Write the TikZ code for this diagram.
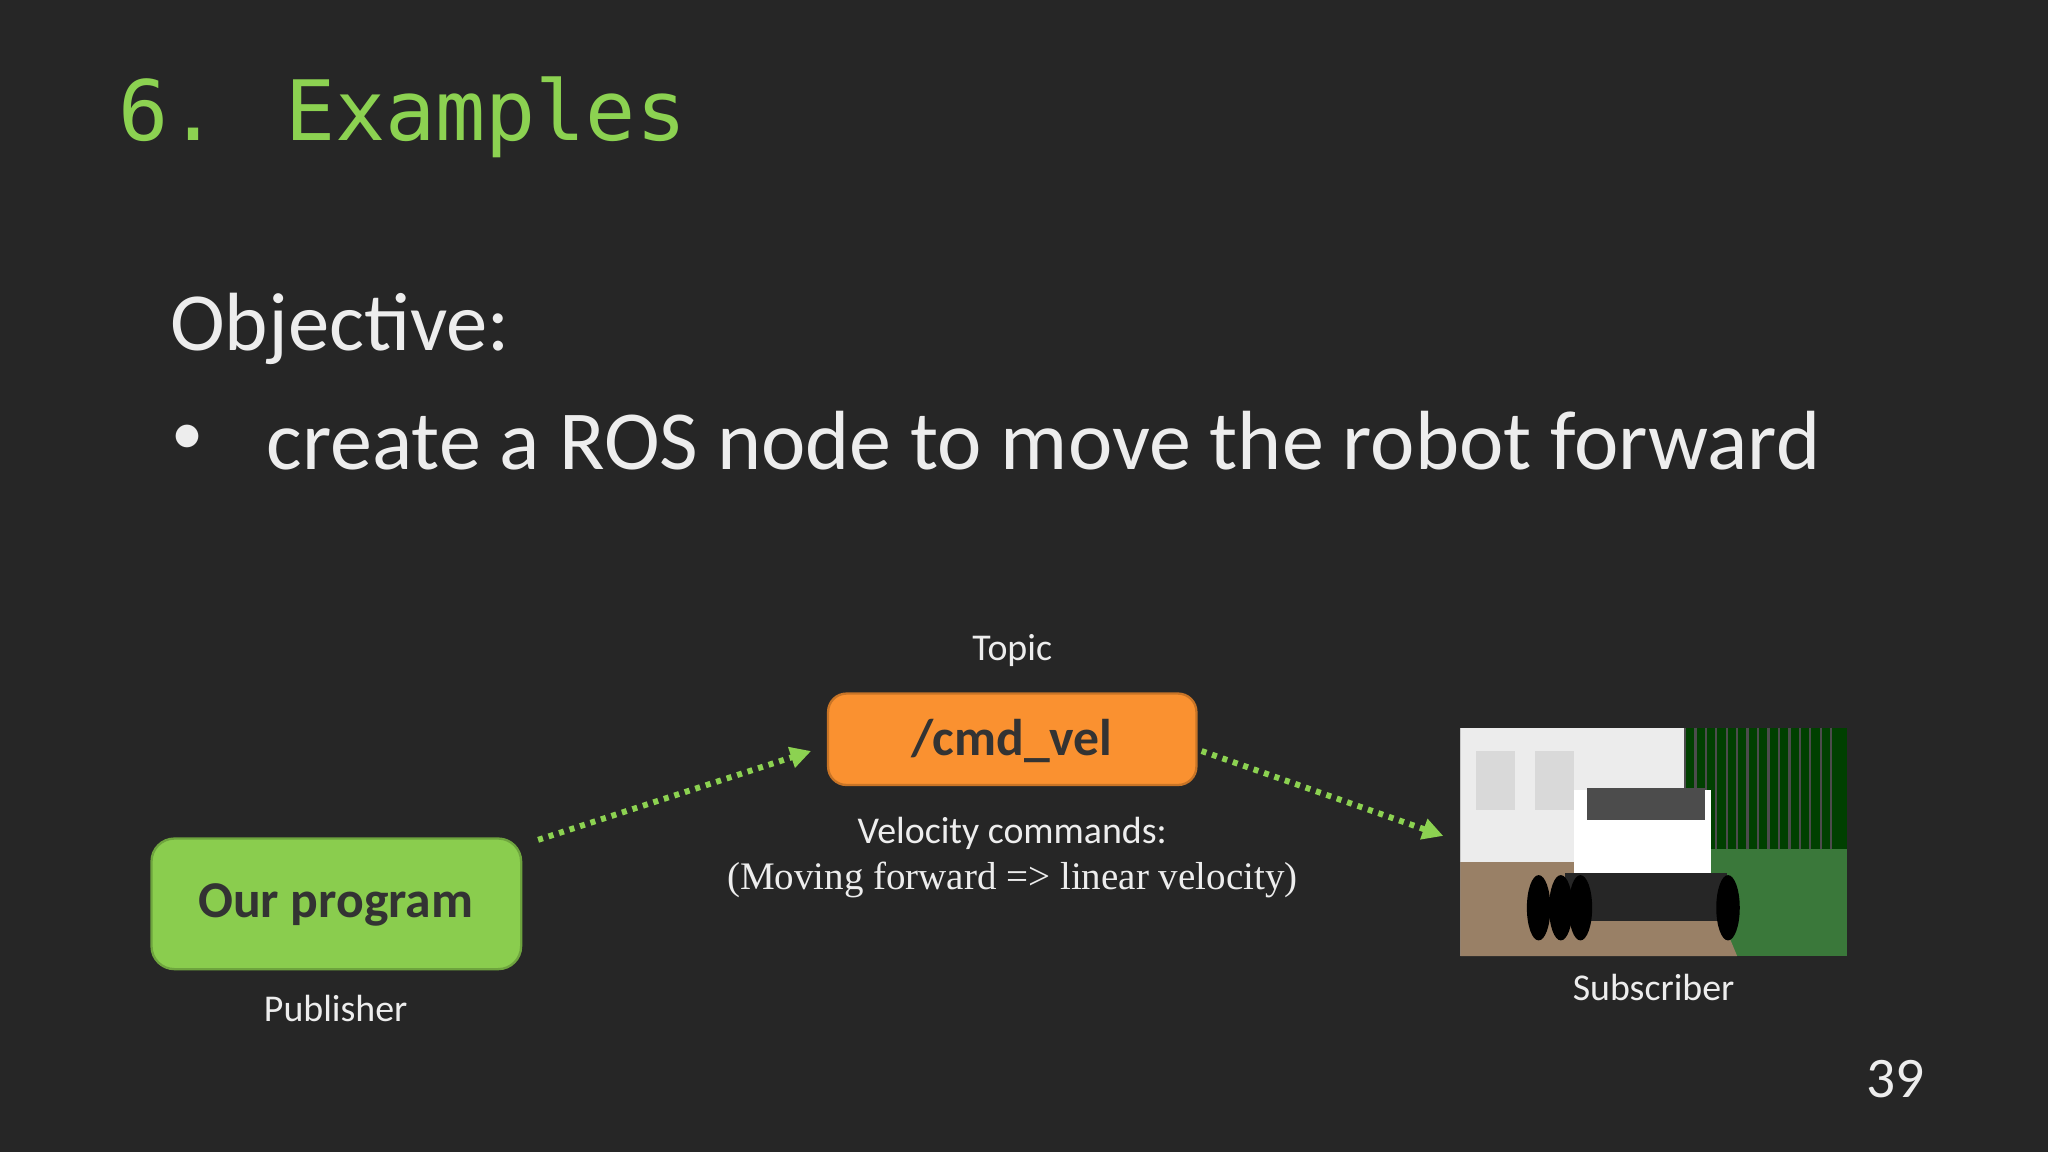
\documentclass[tikz,border=0pt]{standalone}
\usepackage{fontspec}
\setmainfont{Carlito}
\newfontfamily\monof{DejaVu Sans Mono}
\newfontfamily\serf{Liberation Serif}
\usetikzlibrary{arrows.meta}
\definecolor{bg}{HTML}{262626}
\definecolor{grn}{HTML}{8CD251}
\definecolor{boxg}{HTML}{8ACD4E}
\definecolor{orng}{HTML}{FA9130}
\definecolor{txt}{HTML}{EDEDED}
\tikzset{
  lbl/.style={text=txt,font=\fontsize{16.5}{18}\selectfont,inner sep=0},
  dots/.style={grn,line width=2.6pt,dash pattern=on 2.2pt off 2.6pt,-{Triangle[length=9pt,width=9pt]}},
}
\begin{document}
\begin{tikzpicture}[x=0.02cm,y=-0.02cm]
\fill[bg] (0,0) rectangle (1568,882);
\useasboundingbox (0,0) rectangle (1568,882);
\node[anchor=west,text=grn,font=\monof\fontsize{36.3}{40}\selectfont,inner sep=0] (title) at (90,90) {6. Examples};
\node[anchor=west,text=txt,font=\fontsize{36}{40}\selectfont,inner sep=0] (obj) at (130,252) {Objective:};
\node[anchor=west,text=txt,font=\fontsize{28}{40}\selectfont,inner sep=0] (bul) at (131,337) {•};
\node[anchor=west,text=txt,font=\fontsize{36.6}{40}\selectfont,inner sep=0] (line) at (204,337) {create a ROS node to move the robot forward};
\node[lbl] (topic) at (775,498) {Topic};
\path[fill=orng,draw=orng!80!black,line width=1pt,rounded corners=8pt] (634,531) rectangle (916,601);
\node[text=black!80,font=\bfseries\fontsize{22.5}{24}\selectfont,inner sep=0] (cmdt) at (775,567) {/cmd\_vel};
\node[lbl] (vel) at (775,638) {Velocity commands:};
\node[text=txt,font=\serf\fontsize{17}{18}\selectfont,inner sep=0] (vel2) at (775,674) {(Moving forward => linear velocity)};
\path[fill=boxg,draw=boxg!80!black,line width=1pt,rounded corners=10pt] (116,642) rectangle (399,742);
\node[text=black!80,font=\bfseries\fontsize{22.5}{24}\selectfont,inner sep=0] (prog) at (257,693) {Our program};
\node[lbl] (pub) at (257,772) {Publisher};
% robot photo
\begin{scope}
\clip (1118,557) rectangle (1414,732);
\fill[gray!55] (1118,557) rectangle (1414,732);
\fill[white!85!gray] (1118,557) rectangle (1290,660);
\fill[gray!30] (1130,575) rectangle (1160,620);
\fill[gray!30] (1175,575) rectangle (1205,620);
\fill[green!25!black] (1290,557) rectangle (1414,680);
\foreach \i in {0,...,14} \draw[black!70,line width=1pt] (1290+\i*8,557) -- (1290+\i*8,670);
\fill[green!35!gray!70!black] (1300,650) rectangle (1414,732);
\fill[brown!40!gray] (1118,660) -- (1300,660) -- (1330,732) -- (1118,732) -- cycle;
\fill[white] (1205,605) rectangle (1310,670);
\fill[black!70] (1215,603) rectangle (1305,628);
\fill[black!85] (1198,668) rectangle (1322,705);
\foreach \x in {1178,1195,1210,1323} \fill[black] (\x,695) ellipse (9 and 25);
\end{scope}
\coordinate (rl) at (1105,640);
\node[lbl] (sub) at (1266,756) {Subscriber};
\coordinate (ps) at (412,643);
\coordinate (pe) at (621,575);
\coordinate (cs) at (920,575);
\draw[dots] (ps) -- (pe);
\draw[dots] (cs) -- (rl);
\node[text=txt,font=\fontsize{25}{28}\selectfont,inner sep=0] (num) at (1451,826) {39};
\end{tikzpicture}
\end{document}
